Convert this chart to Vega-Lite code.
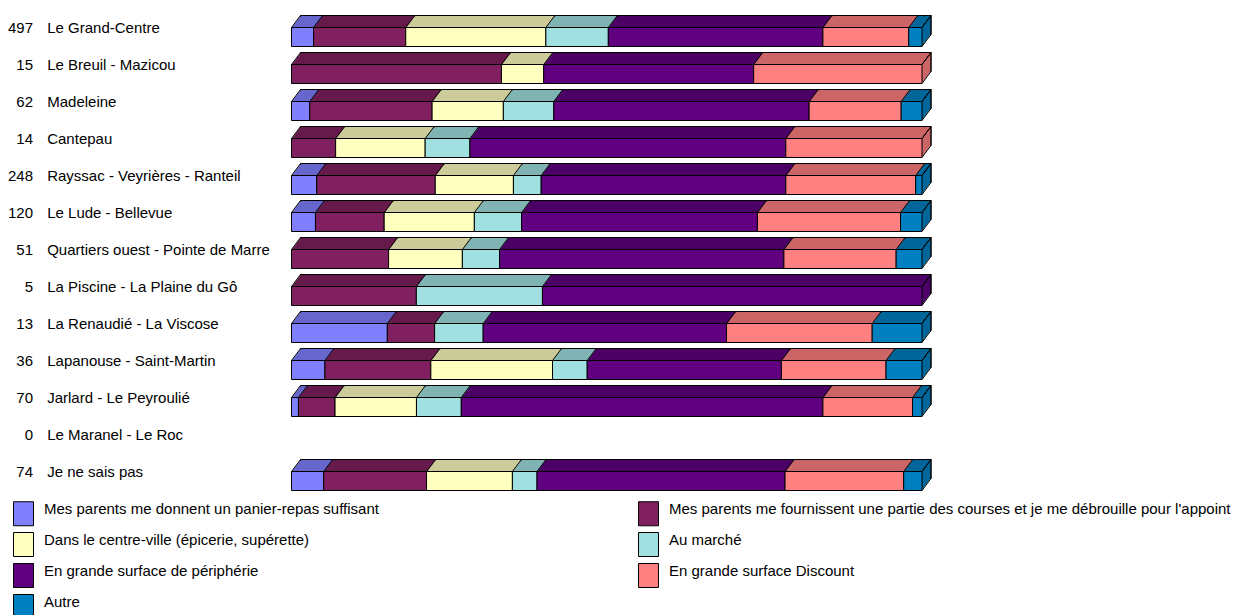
{
  "$schema": "https://vega.github.io/schema/vega-lite/v6.json",
  "width": 630.5,
  "height": 481,
  "padding": {"left": 291.5, "top": 18.5, "right": 325, "bottom": 115.5},
  "autosize": {"type": "none"},
  "background": "white",
  "config": {"view": {"stroke": null}, "font": "Liberation Sans"},
  "datasets": {
    "resp": [
      {"k": 1, "resp": "Mes parents me donnent un panier-repas suffisant"},
      {"k": 2, "resp": "Mes parents me fournissent une partie des courses et je me débrouille pour l'appoint"},
      {"k": 3, "resp": "Dans le centre-ville (épicerie, supérette)"},
      {"k": 4, "resp": "Au marché"},
      {"k": 5, "resp": "En grande surface de périphérie"},
      {"k": 6, "resp": "En grande surface Discount"},
      {"k": 7, "resp": "Autre"}
    ],
    "rows": [
      {"bar": "Le Grand-Centre", "n": 497},
      {"bar": "Le Breuil - Mazicou", "n": 15},
      {"bar": "Madeleine", "n": 62},
      {"bar": "Cantepau", "n": 14},
      {"bar": "Rayssac - Veyrières - Ranteil", "n": 248},
      {"bar": "Le Lude - Bellevue", "n": 120},
      {"bar": "Quartiers ouest - Pointe de Marre", "n": 51},
      {"bar": "La Piscine - La Plaine du Gô", "n": 5},
      {"bar": "La Renaudié - La Viscose", "n": 13},
      {"bar": "Lapanouse - Saint-Martin", "n": 36},
      {"bar": "Jarlard - Le Peyroulié", "n": 70},
      {"bar": "Le Maranel - Le Roc", "n": 0},
      {"bar": "Je ne sais pas", "n": 74}
    ],
    "seg": [
      {"bar": "Le Grand-Centre", "k": 1, "pct": 3.5},
      {"bar": "Le Grand-Centre", "k": 2, "pct": 14.6},
      {"bar": "Le Grand-Centre", "k": 3, "pct": 22.2},
      {"bar": "Le Grand-Centre", "k": 4, "pct": 9.9},
      {"bar": "Le Grand-Centre", "k": 5, "pct": 34.0},
      {"bar": "Le Grand-Centre", "k": 6, "pct": 13.6},
      {"bar": "Le Grand-Centre", "k": 7, "pct": 2.1},
      {"bar": "Le Breuil - Mazicou", "k": 2, "pct": 33.3},
      {"bar": "Le Breuil - Mazicou", "k": 3, "pct": 6.7},
      {"bar": "Le Breuil - Mazicou", "k": 5, "pct": 33.3},
      {"bar": "Le Breuil - Mazicou", "k": 6, "pct": 26.7},
      {"bar": "Madeleine", "k": 1, "pct": 2.9},
      {"bar": "Madeleine", "k": 2, "pct": 19.4},
      {"bar": "Madeleine", "k": 3, "pct": 11.3},
      {"bar": "Madeleine", "k": 4, "pct": 8.0},
      {"bar": "Madeleine", "k": 5, "pct": 40.5},
      {"bar": "Madeleine", "k": 6, "pct": 14.6},
      {"bar": "Madeleine", "k": 7, "pct": 3.3},
      {"bar": "Cantepau", "k": 2, "pct": 7.0},
      {"bar": "Cantepau", "k": 3, "pct": 14.2},
      {"bar": "Cantepau", "k": 4, "pct": 7.1},
      {"bar": "Cantepau", "k": 5, "pct": 50.1},
      {"bar": "Cantepau", "k": 6, "pct": 21.6},
      {"bar": "Rayssac - Veyrières - Ranteil", "k": 1, "pct": 4.0},
      {"bar": "Rayssac - Veyrières - Ranteil", "k": 2, "pct": 18.8},
      {"bar": "Rayssac - Veyrières - Ranteil", "k": 3, "pct": 12.4},
      {"bar": "Rayssac - Veyrières - Ranteil", "k": 4, "pct": 4.4},
      {"bar": "Rayssac - Veyrières - Ranteil", "k": 5, "pct": 38.8},
      {"bar": "Rayssac - Veyrières - Ranteil", "k": 6, "pct": 20.6},
      {"bar": "Rayssac - Veyrières - Ranteil", "k": 7, "pct": 1.0},
      {"bar": "Le Lude - Bellevue", "k": 1, "pct": 3.8},
      {"bar": "Le Lude - Bellevue", "k": 2, "pct": 10.9},
      {"bar": "Le Lude - Bellevue", "k": 3, "pct": 14.3},
      {"bar": "Le Lude - Bellevue", "k": 4, "pct": 7.5},
      {"bar": "Le Lude - Bellevue", "k": 5, "pct": 37.4},
      {"bar": "Le Lude - Bellevue", "k": 6, "pct": 22.7},
      {"bar": "Le Lude - Bellevue", "k": 7, "pct": 3.4},
      {"bar": "Quartiers ouest - Pointe de Marre", "k": 2, "pct": 15.4},
      {"bar": "Quartiers ouest - Pointe de Marre", "k": 3, "pct": 11.7},
      {"bar": "Quartiers ouest - Pointe de Marre", "k": 4, "pct": 5.9},
      {"bar": "Quartiers ouest - Pointe de Marre", "k": 5, "pct": 45.1},
      {"bar": "Quartiers ouest - Pointe de Marre", "k": 6, "pct": 17.8},
      {"bar": "Quartiers ouest - Pointe de Marre", "k": 7, "pct": 4.1},
      {"bar": "La Piscine - La Plaine du Gô", "k": 2, "pct": 19.8},
      {"bar": "La Piscine - La Plaine du Gô", "k": 4, "pct": 20.0},
      {"bar": "La Piscine - La Plaine du Gô", "k": 5, "pct": 60.2},
      {"bar": "La Renaudié - La Viscose", "k": 1, "pct": 15.2},
      {"bar": "La Renaudié - La Viscose", "k": 2, "pct": 7.5},
      {"bar": "La Renaudié - La Viscose", "k": 4, "pct": 7.7},
      {"bar": "La Renaudié - La Viscose", "k": 5, "pct": 38.6},
      {"bar": "La Renaudié - La Viscose", "k": 6, "pct": 23.1},
      {"bar": "La Renaudié - La Viscose", "k": 7, "pct": 7.9},
      {"bar": "Lapanouse - Saint-Martin", "k": 1, "pct": 5.3},
      {"bar": "Lapanouse - Saint-Martin", "k": 2, "pct": 16.8},
      {"bar": "Lapanouse - Saint-Martin", "k": 3, "pct": 19.3},
      {"bar": "Lapanouse - Saint-Martin", "k": 4, "pct": 5.5},
      {"bar": "Lapanouse - Saint-Martin", "k": 5, "pct": 30.8},
      {"bar": "Lapanouse - Saint-Martin", "k": 6, "pct": 16.6},
      {"bar": "Lapanouse - Saint-Martin", "k": 7, "pct": 5.7},
      {"bar": "Jarlard - Le Peyroulié", "k": 1, "pct": 1.1},
      {"bar": "Jarlard - Le Peyroulié", "k": 2, "pct": 5.8},
      {"bar": "Jarlard - Le Peyroulié", "k": 3, "pct": 12.9},
      {"bar": "Jarlard - Le Peyroulié", "k": 4, "pct": 7.1},
      {"bar": "Jarlard - Le Peyroulié", "k": 5, "pct": 57.3},
      {"bar": "Jarlard - Le Peyroulié", "k": 6, "pct": 14.2},
      {"bar": "Jarlard - Le Peyroulié", "k": 7, "pct": 1.5},
      {"bar": "Je ne sais pas", "k": 1, "pct": 5.1},
      {"bar": "Je ne sais pas", "k": 2, "pct": 16.3},
      {"bar": "Je ne sais pas", "k": 3, "pct": 13.6},
      {"bar": "Je ne sais pas", "k": 4, "pct": 3.9},
      {"bar": "Je ne sais pas", "k": 5, "pct": 39.3},
      {"bar": "Je ne sais pas", "k": 6, "pct": 18.8},
      {"bar": "Je ne sais pas", "k": 7, "pct": 2.9}
    ]
  },
  "encoding": {
    "y": {
      "field": "bar",
      "type": "nominal",
      "sort": null,
      "scale": {
        "domain": ["Le Grand-Centre", "Le Breuil - Mazicou", "Madeleine", "Cantepau", "Rayssac - Veyrières - Ranteil", "Le Lude - Bellevue", "Quartiers ouest - Pointe de Marre", "La Piscine - La Plaine du Gô", "La Renaudié - La Viscose", "Lapanouse - Saint-Martin", "Jarlard - Le Peyroulié", "Le Maranel - Le Roc", "Je ne sais pas"],
        "paddingInner": 0,
        "paddingOuter": 0
      },
      "axis": {
        "title": null,
        "domain": false,
        "ticks": false,
        "tickSize": 0,
        "grid": false,
        "labelAlign": "left",
        "labelPadding": 244.8,
        "labelFont": "Liberation Sans",
        "labelFontSize": 15,
        "labelColor": "black",
        "labelBaseline": "alphabetic",
        "labelOffset": -3.7,
        "labelLimit": 400,
        "labelOverlap": false
      }
    }
  },
  "layer": [
    {"data": {"name": "seg"}, "mark": {"type": "bar", "height": 19, "xOffset": 9, "x2Offset": 9, "yOffset": -12, "stroke": "black", "strokeWidth": 1},
     "encoding": {"x": {"field": "pct", "type": "quantitative", "stack": "normalize", "axis": null, "scale": {"domain": [0, 1], "nice": false}},
       "color": {"field": "k", "type": "nominal", "scale": {"domain": [1, 2, 3, 4, 5, 6, 7], "range": ["#6666CC", "#661A4D", "#CCCC9A", "#80B3B3", "#4D0066", "#CC6666", "#006699"]}, "legend": null},
       "order": {"field": "k"}}},
    {"data": {"name": "seg"}, "mark": {"type": "bar", "height": 19, "xOffset": 8.25, "x2Offset": 8.25, "yOffset": -11},
     "encoding": {"x": {"field": "pct", "type": "quantitative", "stack": "normalize", "axis": null}, "color": {"field": "k", "type": "nominal", "legend": null}, "order": {"field": "k"}}},
    {"data": {"name": "seg"}, "mark": {"type": "bar", "height": 19, "xOffset": 7.5, "x2Offset": 7.5, "yOffset": -10},
     "encoding": {"x": {"field": "pct", "type": "quantitative", "stack": "normalize", "axis": null}, "color": {"field": "k", "type": "nominal", "legend": null}, "order": {"field": "k"}}},
    {"data": {"name": "seg"}, "mark": {"type": "bar", "height": 19, "xOffset": 6.75, "x2Offset": 6.75, "yOffset": -9},
     "encoding": {"x": {"field": "pct", "type": "quantitative", "stack": "normalize", "axis": null}, "color": {"field": "k", "type": "nominal", "legend": null}, "order": {"field": "k"}}},
    {"data": {"name": "seg"}, "mark": {"type": "bar", "height": 19, "xOffset": 6, "x2Offset": 6, "yOffset": -8},
     "encoding": {"x": {"field": "pct", "type": "quantitative", "stack": "normalize", "axis": null}, "color": {"field": "k", "type": "nominal", "legend": null}, "order": {"field": "k"}}},
    {"data": {"name": "seg"}, "mark": {"type": "bar", "height": 19, "xOffset": 5.25, "x2Offset": 5.25, "yOffset": -7},
     "encoding": {"x": {"field": "pct", "type": "quantitative", "stack": "normalize", "axis": null}, "color": {"field": "k", "type": "nominal", "legend": null}, "order": {"field": "k"}}},
    {"data": {"name": "seg"}, "mark": {"type": "bar", "height": 19, "xOffset": 4.5, "x2Offset": 4.5, "yOffset": -6},
     "encoding": {"x": {"field": "pct", "type": "quantitative", "stack": "normalize", "axis": null}, "color": {"field": "k", "type": "nominal", "legend": null}, "order": {"field": "k"}}},
    {"data": {"name": "seg"}, "mark": {"type": "bar", "height": 19, "xOffset": 3.75, "x2Offset": 3.75, "yOffset": -5},
     "encoding": {"x": {"field": "pct", "type": "quantitative", "stack": "normalize", "axis": null}, "color": {"field": "k", "type": "nominal", "legend": null}, "order": {"field": "k"}}},
    {"data": {"name": "seg"}, "mark": {"type": "bar", "height": 19, "xOffset": 3, "x2Offset": 3, "yOffset": -4},
     "encoding": {"x": {"field": "pct", "type": "quantitative", "stack": "normalize", "axis": null}, "color": {"field": "k", "type": "nominal", "legend": null}, "order": {"field": "k"}}},
    {"data": {"name": "seg"}, "mark": {"type": "bar", "height": 19, "xOffset": 2.25, "x2Offset": 2.25, "yOffset": -3},
     "encoding": {"x": {"field": "pct", "type": "quantitative", "stack": "normalize", "axis": null}, "color": {"field": "k", "type": "nominal", "legend": null}, "order": {"field": "k"}}},
    {"data": {"name": "seg"}, "mark": {"type": "bar", "height": 19, "xOffset": 1.5, "x2Offset": 1.5, "yOffset": -2},
     "encoding": {"x": {"field": "pct", "type": "quantitative", "stack": "normalize", "axis": null}, "color": {"field": "k", "type": "nominal", "legend": null}, "order": {"field": "k"}}},
    {"data": {"name": "seg"}, "mark": {"type": "bar", "height": 19, "xOffset": 0.75, "x2Offset": 0.75, "yOffset": -1},
     "encoding": {"x": {"field": "pct", "type": "quantitative", "stack": "normalize", "axis": null}, "color": {"field": "k", "type": "nominal", "legend": null}, "order": {"field": "k"}}},
    {
      "data": {"name": "seg"},
      "transform": [{"lookup": "k", "from": {"data": {"name": "resp"}, "key": "k", "fields": ["resp"]}}],
      "mark": {"type": "bar", "height": 19, "stroke": "black", "strokeWidth": 1},
      "encoding": {
        "x": {"field": "pct", "type": "quantitative", "stack": "normalize", "axis": null},
        "fill": {
          "field": "resp",
          "type": "nominal",
          "scale": {
            "domain": ["Mes parents me donnent un panier-repas suffisant", "Dans le centre-ville (épicerie, supérette)", "En grande surface de périphérie", "Autre", "Mes parents me fournissent une partie des courses et je me débrouille pour l'appoint", "Au marché", "En grande surface Discount"],
            "range": ["#8080FF", "#FFFFC0", "#600080", "#0080C0", "#802060", "#A0E0E0", "#FF8080"]
          },
          "legend": {
            "orient": "none",
            "legendX": -280.5,
            "legendY": 482.5,
            "columns": 2,
            "title": null,
            "padding": 0,
            "symbolType": "M -0.8333 -1 L 0.8333 -1 L 0.8333 1 L -0.8333 1 Z",
            "symbolSize": 576,
            "symbolStrokeColor": "black",
            "symbolStrokeWidth": 1,
            "symbolOpacity": 1,
            "labelFont": "Liberation Sans",
            "labelFontSize": 15,
            "labelColor": "black",
            "labelOffset": 8,
            "labelBaseline": "alphabetic",
            "labelLimit": 800,
            "rowPadding": 2,
            "columnPadding": 257
          }
        },
        "order": {"field": "k"}
      }
    },
    {
      "data": {"name": "seg"},
      "mark": {"type": "point", "shape": "M 0 -0.3958 L 0.375 -0.8958", "size": 2304, "filled": false, "color": "black", "stroke": "black", "strokeWidth": 1, "opacity": 1},
      "encoding": {
        "x": {"field": "pct", "type": "quantitative", "stack": "normalize", "axis": null},
        "detail": {"field": "k"},
        "order": {"field": "k"}
      }
    },
    {
      "data": {"name": "rows"},
      "transform": [{"filter": "datum.n > 0"}],
      "layer": [
        {
          "mark": {"type": "point", "shape": "M 0 -0.3958 L 0.375 -0.8958", "size": 2304, "filled": false, "color": "black", "stroke": "black", "strokeWidth": 1, "opacity": 1},
          "encoding": {"x": {"datum": 0, "type": "quantitative", "axis": null}}
        },
        {
          "mark": {"type": "point", "shape": "M 0 -0.3958 L 0.375 -0.8958 L 0.375 -0.1042 L 0 0.3958", "size": 2304, "filled": false, "color": "black", "stroke": "black", "strokeWidth": 1, "opacity": 1},
          "encoding": {"x": {"datum": 1, "type": "quantitative", "axis": null}}
        }
      ]
    },
    {
      "data": {"name": "rows"},
      "mark": {"type": "text", "align": "right", "baseline": "alphabetic", "dy": -3.7, "xOffset": -258.5, "fontSize": 15, "font": "Liberation Sans", "color": "black"},
      "encoding": {
        "x": {"datum": 0, "type": "quantitative", "axis": null},
        "text": {"field": "n", "type": "quantitative"}
      }
    }
  ]
}
